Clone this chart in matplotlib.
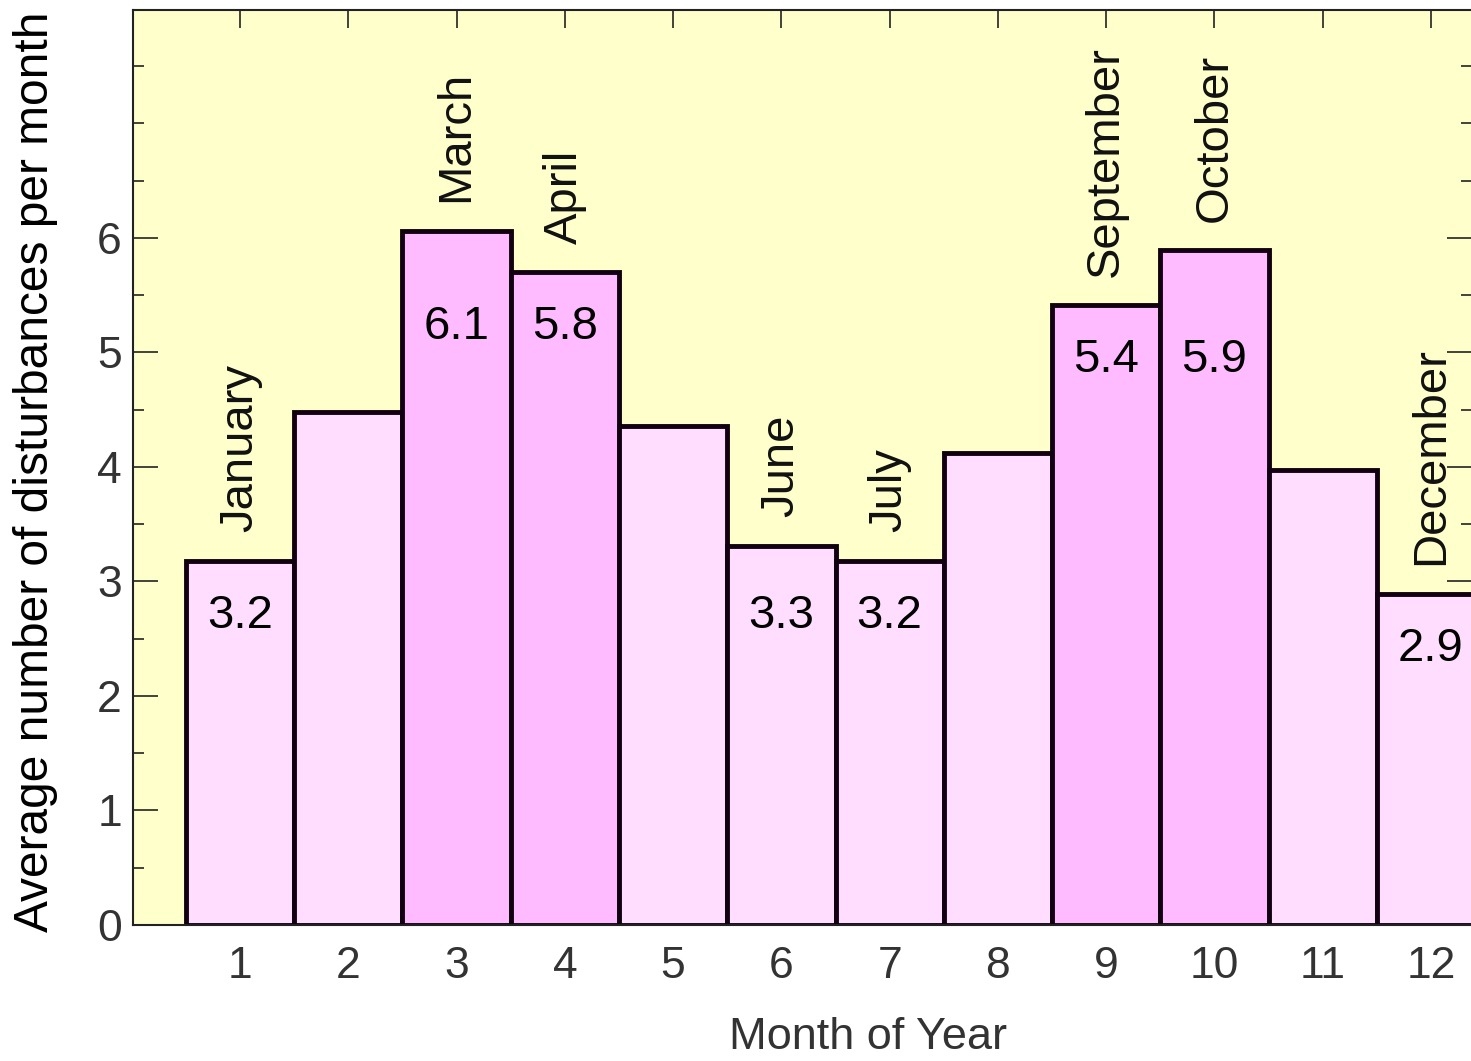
import matplotlib
matplotlib.use("Agg")
import matplotlib.pyplot as plt
from matplotlib.ticker import FixedLocator

months = list(range(1, 13))
heights = [3.18, 4.48, 6.06, 5.7, 4.36, 3.31, 3.18, 4.12, 5.41, 5.89, 3.97, 2.89]
month_names = ["January", "", "March", "April", "", "June", "July", "",
               "September", "October", "", "December"]
value_labels = ["3.2", "", "6.1", "5.8", "", "3.3", "3.2", "", "5.4", "5.9", "", "2.9"]
highlight = [False, False, True, True, False, False, False, False, True, True, False, False]

plt.rcParams['font.family'] = ['Liberation Sans', 'DejaVu Sans']

fig = plt.figure(figsize=(14.71, 10.61), dpi=100)
ax = fig.add_axes([133/1471, 136/1061, 1339/1471, 915/1061])
ax.set_facecolor('#FFFFCC')

colors = ['#FFBBFF' if h else '#FFDDFF' for h in highlight]
ax.bar(months, heights, width=1.0, color=colors, edgecolor='#100010', linewidth=3.5, zorder=2)

ax.set_xlim(0.011, 12.379)
ax.set_ylim(0, 7.99)

for i, (m, h) in enumerate(zip(months, heights)):
    if month_names[i]:
        ax.text(m, h + 0.25, month_names[i], rotation=90, ha='center', va='bottom',
                fontsize=34, color='#111111', zorder=3)
    if value_labels[i]:
        cand = [h]
        if i > 0 and value_labels[i-1]:
            cand.append(heights[i-1])
        if i < 11 and value_labels[i+1]:
            cand.append(heights[i+1])
        ax.text(m, min(cand) - 0.48, value_labels[i], ha='center', va='center',
                fontsize=34, color='black', zorder=3)

ax.xaxis.set_major_locator(FixedLocator(months))
ax.yaxis.set_major_locator(FixedLocator([0, 1, 2, 3, 4, 5, 6]))
ax.yaxis.set_minor_locator(FixedLocator([0.5, 1.5, 2.5, 3.5, 4.5, 5.5, 6.5, 7, 7.5]))

ax.tick_params(axis='x', which='major', direction='in', length=13, width=1.2,
               top=True, bottom=True, labelsize=32, labelcolor='#333333', pad=15,
               color='#222222')
ax.tick_params(axis='y', which='major', direction='in', length=18, width=1.2,
               left=True, right=True, labelsize=32, labelcolor='#333333', pad=8,
               color='#222222')
ax.tick_params(axis='y', which='minor', direction='in', length=8, width=1.2,
               left=True, right=True, color='#222222')

for s in ax.spines.values():
    s.set_linewidth(1.5)
    s.set_color('#222222')
    s.set_zorder(4)

ax.set_ylabel("Average number of disturbances per month", fontsize=34.5, color='black', va='center')
ax.yaxis.set_label_coords(-0.073, 0.495)
ax.set_xlabel("Month of Year", fontsize=32.5, color='#333333', va='center')
ax.xaxis.set_label_coords(0.549, -0.1225)

fig.savefig("out.png", dpi=100)
